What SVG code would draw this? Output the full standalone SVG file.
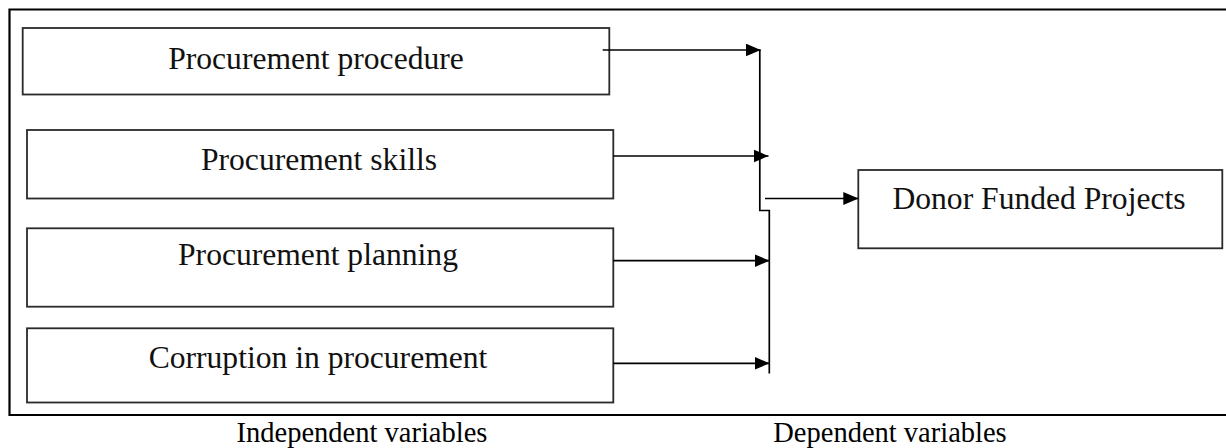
<svg xmlns="http://www.w3.org/2000/svg" width="1226" height="448" viewBox="0 0 1226 448">
<style>
.frame{fill:none;stroke:#000;stroke-width:2.2}
.box{fill:#fff;stroke:#2a2a2a;stroke-width:1.8}
.lbl{font-family:"Liberation Serif","Times New Roman",serif;font-size:31.6px;fill:#111;text-anchor:middle}
.cap{font-family:"Liberation Serif","Times New Roman",serif;font-size:28.5px;fill:#000;text-anchor:middle}
.conn{fill:none;stroke:#000;stroke-width:1.7}
</style>
<defs>
<marker id="ah" markerWidth="15" markerHeight="13" refX="15" refY="6.5" orient="auto" markerUnits="userSpaceOnUse">
<path d="M0,0 L15,6.5 L0,13 Z" fill="#000"/>
</marker>
</defs>
<rect width="1226" height="448" fill="#fff"/>
<g id="frame">
<path class="frame" d="M1226,9.5 H9.5 V415 H1226"/>
</g>
<g id="n1">
<rect class="box" x="22.7" y="28" width="586.6" height="66.5"/>
<text class="lbl" x="316" y="69">Procurement procedure</text>
</g>
<g id="n2">
<rect class="box" x="27" y="130" width="586.3" height="68.5"/>
<text class="lbl" x="319" y="170">Procurement skills</text>
</g>
<g id="n3">
<rect class="box" x="27" y="228.3" width="586.3" height="78.4"/>
<text class="lbl" x="318" y="265">Procurement planning</text>
</g>
<g id="n4">
<rect class="box" x="27" y="328.3" width="586.3" height="74.2"/>
<text class="lbl" x="318" y="368">Corruption in procurement</text>
</g>
<g id="n5">
<rect class="box" x="858.3" y="170" width="364" height="78.3"/>
<text class="lbl" x="1039" y="209">Donor Funded Projects</text>
</g>
<g id="connectors">
<line class="conn" x1="602.7" y1="50" x2="760.7" y2="50" marker-end="url(#ah)"/>
<line class="conn" x1="613.3" y1="156" x2="768.5" y2="156" marker-end="url(#ah)"/>
<line class="conn" x1="613.3" y1="260.7" x2="769.5" y2="260.7" marker-end="url(#ah)"/>
<line class="conn" x1="613.3" y1="363.3" x2="769.5" y2="363.3" marker-end="url(#ah)"/>
<path class="conn" d="M759.8,50 V210.5 H769.3 V373.5"/>
<line class="conn" x1="765" y1="198.5" x2="858.3" y2="198.5" marker-end="url(#ah)"/>
</g>
<g id="captions">
<text class="cap" x="362" y="442">Independent variables</text>
<text class="cap" x="890" y="442">Dependent variables</text>
</g>
</svg>
